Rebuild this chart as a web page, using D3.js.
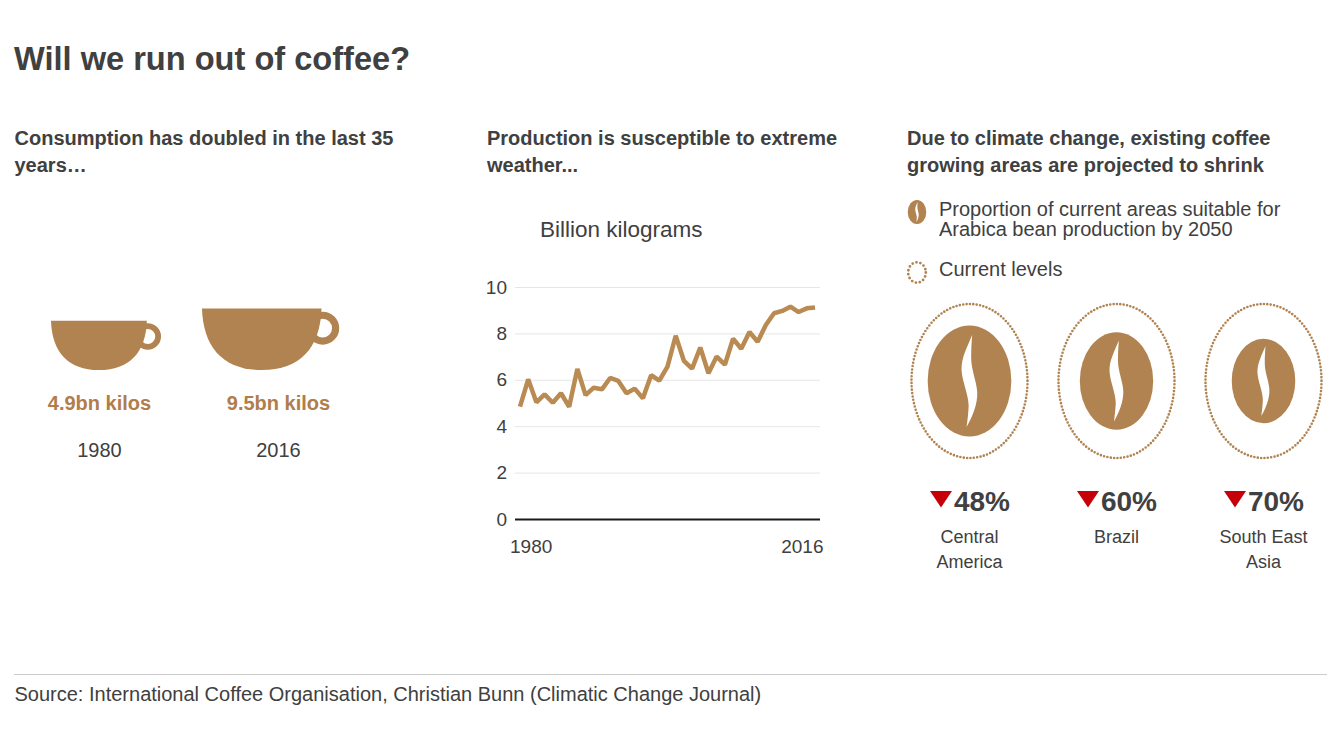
<!DOCTYPE html>
<html lang="en">
<head>
    <meta charset="UTF-8">
    <title>Will we run out of coffee?</title>
    <script src="https://d3js.org/d3.v7.min.js"></script>
    <style>
        body { margin: 0; background: #fff; }
        text { font-family: "Liberation Sans", Arial, sans-serif; fill: #404040; }
        .y-axis text, .x-axis text { font-size: 19px; }
        .y-axis .domain, .x-axis .domain, .x-axis line { display: none; }
    </style>
</head>

<body>
<svg id="chart" width="1327" height="746"></svg>
<script>
    // 咖啡产量 (billion kg)
    var years = [1980, 1981, 1982, 1983, 1984, 1985, 1986, 1987, 1988, 1989, 1990, 1991, 1992,
        1993, 1994, 1995, 1996, 1997, 1998, 1999, 2000, 2001, 2002, 2003, 2004, 2005, 2006,
        2007, 2008, 2009, 2010, 2011, 2012, 2013, 2014, 2015, 2016];
    var production = [4.84, 6.02, 5.03, 5.37, 5.01, 5.42, 4.84, 6.47, 5.34, 5.66, 5.59, 6.08, 5.95,
        5.42, 5.62, 5.2, 6.2, 5.96, 6.57, 7.9, 6.82, 6.48, 7.39, 6.28, 7.0, 6.65, 7.77,
        7.34, 8.06, 7.64, 8.36, 8.87, 8.97, 9.15, 8.92, 9.08, 9.12];
    var yTicks = [0, 2, 4, 6, 8, 10];
    var xTicks = [1980, 2016];

    var cupYears = ["1980", "2016"];
    var cupValues = [4.9, 9.5];
    var cupLabels = ["4.9bn kilos", "9.5bn kilos"];

    var regions = [["Central", "America"], ["Brazil"], ["South East", "Asia"]];
    var shrink = [48, 60, 70];

    var brown = "#b08350";
    var lineBrown = "#b98a52";
    var svg = d3.select("#chart");

    function addText(x, y, str, size, weight, anchor, color) {
        return svg.append("text")
            .attr("x", x).attr("y", y)
            .attr("font-size", size)
            .attr("font-weight", weight || "normal")
            .attr("text-anchor", anchor || "start")
            .style("fill", color || "#404040")
            .text(str);
    }

    addText(14, 70, "Will we run out of coffee?", 32.6, "bold");

    addText(14.5, 145, "Consumption has doubled in the last 35", 20, "bold");
    addText(14.5, 172, "years…", 20, "bold");
    addText(487, 145, "Production is susceptible to extreme", 20, "bold");
    addText(487, 172, "weather...", 20, "bold");
    addText(907, 145, "Due to climate change, existing coffee", 20, "bold");
    addText(907, 172, "growing areas are projected to shrink", 20, "bold");

    //杯子：宽度按体积(立方根)缩放
    var cupScale = d3.scalePow().exponent(1 / 3).domain([0, 9.5]).range([0, 119.5]);
    var labelX = d3.scalePoint().domain(cupYears).range([99.5, 278.5]);
    var cupLeft = d3.scalePoint().domain(cupYears).range([51, 202]);
    var cupBottom = 370;

    function cupPath() {
        return "M0,0 H1 C0.99,0.33 0.82,0.515 0.5,0.515 C0.18,0.515 0.01,0.33 0,0 Z";
    }

    cupYears.forEach(function (year, i) {
        var w = cupScale(cupValues[i]);
        var top = cupBottom - 0.515 * w;
        var g = svg.append("g").attr("transform", "translate(" + cupLeft(year) + "," + top + ") scale(" + w + ")");
        g.append("circle")
            .attr("cx", 1.01).attr("cy", 0.165).attr("r", 0.108)
            .attr("fill", "none").attr("stroke", brown).attr("stroke-width", 0.06);
        g.append("path").attr("d", cupPath()).attr("fill", brown);
        addText(labelX(year), 410, cupLabels[i], 20, "bold", "middle", "#b07d4b");
        addText(labelX(year), 457, year, 20, "normal", "middle");
    });

    // 折线图
    var x = d3.scaleLinear().domain([1980, 2016]).range([520, 815]);
    var y = d3.scaleLinear().domain([0, 10]).range([519, 287]);

    addText(540, 237, "Billion kilograms", 22.5);

    var yAxis = d3.axisLeft(y).tickValues(yTicks).tickSize(0).tickPadding(8);
    svg.append("g").attr("class", "y-axis")
        .attr("transform", "translate(515,0)")
        .call(yAxis)
        .call(g => g.selectAll(".tick text").attr("dy", "0.32em"))
        .call(g => g.selectAll(".tick line")
            .attr("x2", 305)
            .attr("stroke", d => d === 0 ? "#1a1a1a" : "#e6e6e6")
            .attr("stroke-width", d => d === 0 ? 2 : 1));

    var xAxis = d3.axisBottom(x).tickValues(xTicks).tickFormat(d3.format("d")).tickSize(0).tickPadding(0);
    svg.append("g").attr("class", "x-axis")
        .attr("transform", "translate(0,539)")
        .call(xAxis)
        .call(g => g.selectAll(".tick text")
            .attr("text-anchor", d => d === 1980 ? "start" : "end")
            .attr("x", d => d === 1980 ? -10.5 : 8));

    var line = d3.line().x((d, i) => x(years[i])).y(d => y(d));
    svg.append("path")
        .datum(production)
        .attr("d", line)
        .attr("fill", "none")
        .attr("stroke", lineBrown)
        .attr("stroke-width", 4.5)
        .attr("stroke-linejoin", "bevel");

    // 咖啡豆：面积 = 剩余比例
    var beanScale = d3.scaleSqrt().domain([0, 100]).range([0, 1]);
    var beanX = d3.scalePoint().domain(d3.range(regions.length)).range([969.5, 1263.5]);
    var beanY = 381;
    var outerRx = 58, outerRy = 77;
    var slit = "M0.064,-0.83 C-0.05,-0.62 -0.2,-0.42 -0.19,-0.2 C-0.18,0 -0.02,0.25 -0.02,0.45 C-0.03,0.6 -0.05,0.72 -0.07,0.83 " +
        "C0.06,0.66 0.2,0.42 0.185,0.2 C0.17,0 0.04,-0.2 0.04,-0.42 C0.04,-0.58 0.05,-0.7 0.064,-0.83 Z";

    function drawBean(cx, cy, rx, ry) {
        var g = svg.append("g").attr("transform", "translate(" + cx + "," + cy + ")");
        g.append("ellipse").attr("rx", rx).attr("ry", ry).attr("fill", brown);
        g.append("path").attr("d", slit).attr("fill", "#fff")
            .attr("transform", "scale(" + rx + "," + ry + ")");
    }

    function drawDotted(cx, cy, rx, ry, width, gap) {
        svg.append("ellipse")
            .attr("cx", cx).attr("cy", cy).attr("rx", rx).attr("ry", ry)
            .attr("fill", "none")
            .attr("stroke", brown)
            .attr("stroke-width", width)
            .attr("stroke-linecap", "round")
            .attr("stroke-dasharray", "0 " + gap);
    }

    // 图例
    drawBean(917, 212, 9.3, 12);
    addText(939, 216, "Proportion of current areas suitable for", 20);
    addText(939, 236, "Arabica bean production by 2050", 20);
    drawDotted(917, 272.5, 8.8, 10.2, 2.8, 4);
    addText(939, 276, "Current levels", 20);

    shrink.forEach(function (pct, i) {
        var cx = beanX(i);
        var k = beanScale(100 - pct);
        drawDotted(cx, beanY, outerRx, outerRy, 2.6, 3.4);
        drawBean(cx, beanY, outerRx * k, outerRy * k);

        svg.append("path")
            .attr("d", "M" + (cx - 39.5) + ",491 h22 l-11,16.5 Z")
            .attr("fill", "#c50009");
        addText(cx + 12.5, 511, pct + "%", 28, "bold", "middle");

        regions[i].forEach(function (lab, j) {
            addText(cx, 543 + j * 25, lab, 18, "normal", "middle");
        });
    });

    svg.append("line")
        .attr("x1", 14).attr("x2", 1327).attr("y1", 674.5).attr("y2", 674.5)
        .attr("stroke", "#cccccc");
    addText(14.5, 701, "Source: International Coffee Organisation, Christian Bunn (Climatic Change Journal)", 20);
</script>
</body>
</html>
